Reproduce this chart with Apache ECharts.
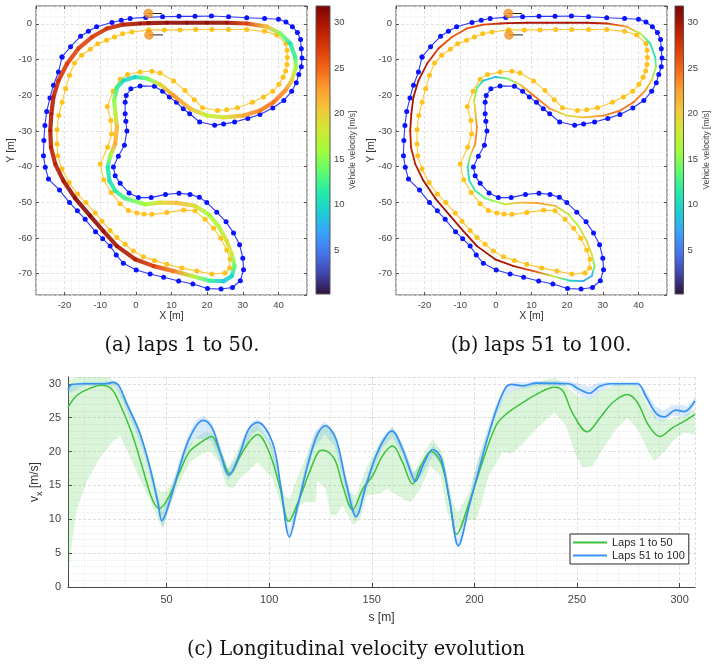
<!DOCTYPE html>
<html><head><meta charset="utf-8">
<script src="https://cdn.jsdelivr.net/npm/echarts@6/dist/echarts.min.js"></script>
<style>html,body{margin:0;padding:0;background:#fff}#c{width:712px;height:666px}</style>
</head><body><div id="c"></div>
<script>
// ---------------- DATA ----------------
// Track cones (m)
const coneBlueX = [-20.7,-18.3,-15.5,-13.3,-11.0,-6.7,-4.1,-1.6,2.8,7.5,12.1,16.6,21.2,26.0,31.1,36.1,40.0,42.1,43.9,45.3,46.2,46.4,46.6,46.4,45.7,45.0,43.7,41.5,38.4,34.8,31.4,27.7,24.6,22.1,17.9,15.1,13.3,11.4,9.4,7.5,5.2,1.2,-1.4,-2.7,-3.0,-3.0,-2.8,-2.5,-3.2,-4.9,-6.3,-5.8,-4.4,-1.9,0.7,4.3,8.3,12.1,15.2,17.8,19.9,22.7,25.3,27.4,29.1,30.0,30.2,29.3,27.1,23.9,20.1,16.0,12.0,7.8,4.0,0.1,-3.5,-5.5,-7.2,-9.3,-11.3,-14.2,-16.4,-18.6,-21.4,-24.5,-25.4,-25.9,-25.8,-25.5,-25.0,-24.1,-23.1,-21.7];
const coneBlueY = [-9.3,-6.4,-3.5,-2.1,-0.8,0.4,1.0,1.5,1.8,2.0,2.1,2.1,2.2,2.0,1.7,1.5,1.3,0.5,-0.8,-2.4,-4.4,-7.0,-9.6,-12.0,-14.2,-16.5,-18.9,-21.5,-23.6,-25.4,-26.5,-27.5,-28.1,-28.4,-27.5,-25.2,-23.8,-22.0,-20.5,-18.9,-17.5,-17.4,-18.2,-20.1,-22.0,-25.2,-27.3,-30.0,-34.0,-37.1,-40.1,-42.6,-44.7,-47.4,-48.7,-48.7,-47.8,-47.5,-47.8,-48.6,-50.1,-52.8,-55.5,-58.6,-61.9,-65.7,-68.9,-72.0,-73.9,-74.3,-74.2,-72.9,-72.1,-71.0,-70.1,-69.0,-67.1,-64.8,-62.3,-60.2,-58.3,-54.8,-52.4,-50.1,-46.6,-43.5,-40.2,-37.0,-32.7,-28.5,-24.6,-20.8,-17.2,-13.5];
const coneYellowX = [3.6,8.0,12.4,16.8,21.3,26.0,31.1,36.1,39.5,42.1,42.4,42.5,42.4,42.0,41.3,40.1,38.4,35.8,32.7,28.5,25.5,22.9,18.7,16.4,13.8,10.6,6.8,4.5,1.2,-2.3,-4.4,-6.4,-8.0,-7.0,-6.8,-7.9,-10.0,-9.0,-6.9,-4.4,-2.1,0.3,2.3,4.5,8.7,13.4,16.6,19.4,21.8,23.8,25.5,26.4,26.3,25.0,21.3,17.1,12.9,8.7,5.2,2.1,-0.7,-3.0,-5.3,-7.2,-9.5,-11.4,-14.0,-16.4,-18.7,-20.7,-21.9,-22.1,-22.1,-21.6,-20.7,-19.7,-18.6,-17.2,-15.2,-12.8,-10.7,-8.2,-6.0,-3.7,-1.1];
const coneYellowY = [-1.7,-1.7,-1.7,-1.6,-1.6,-1.6,-1.6,-2.1,-3.1,-5.5,-7.4,-9.4,-11.4,-13.2,-15.0,-17.0,-18.9,-20.5,-22.0,-23.5,-24.1,-24.3,-23.5,-21.3,-18.7,-16.0,-13.8,-13.3,-13.5,-14.2,-15.5,-18.9,-23.2,-27.1,-30.9,-34.6,-39.3,-43.7,-47.3,-50.4,-52.3,-53.0,-53.3,-53.4,-52.9,-52.2,-52.4,-54.8,-57.3,-60.1,-63.4,-66.0,-68.4,-69.8,-70.1,-69.3,-68.4,-67.4,-66.3,-65.3,-63.7,-61.8,-59.9,-57.9,-55.3,-53.0,-50.1,-47.7,-44.5,-40.7,-37.0,-33.7,-29.7,-25.7,-22.0,-18.2,-14.4,-11.0,-8.8,-7.1,-5.6,-4.6,-3.7,-2.8,-2.3];
// Start markers and heading
const startX = [3.5, 3.7];
const startY = [2.9, -3.1];
const headingEndX = [7.3, 7.6];
// Racing line path (m) and mean speeds (m/s)
const raceX = [3.5,8.7,14.3,19.9,25.5,31.1,36.7,40.5,43.3,44.7,44.9,43.7,41.9,38.6,34.9,30.2,24.6,19.9,15.2,10.6,6.8,3.1,-0.2,-3.5,-5.3,-6.1,-5.7,-5.3,-5.8,-7.2,-7.9,-7.4,-5.8,-3.0,2.6,6.8,11.5,16.6,20.4,23.2,25.5,26.9,27.7,26.9,24.6,20.8,16.2,10.6,5.0,-0.2,-5.3,-9.1,-12.8,-17.0,-20.3,-22.6,-23.8,-24.0,-23.7,-23.1,-21.7,-19.3,-16.1,-12.3,-8.1,-3.5,1.2];
const raceY = [0.2,0.3,0.3,0.3,0.3,0.1,-0.8,-2.7,-5.5,-9.3,-12.1,-15.9,-18.7,-22.0,-24.3,-25.7,-26.2,-25.7,-23.8,-20.1,-17.0,-15.3,-14.9,-15.9,-17.9,-21.5,-25.2,-29.0,-33.7,-37.0,-40.2,-44.0,-46.8,-48.9,-50.6,-50.1,-50.2,-51.0,-53.4,-56.7,-60.9,-64.6,-67.9,-70.7,-72.1,-72.0,-70.8,-69.3,-67.9,-66.0,-62.3,-58.1,-53.8,-48.9,-44.0,-39.3,-34.6,-29.9,-25.2,-20.5,-15.9,-11.2,-6.9,-3.7,-1.3,-0.2,0.1];
const raceSpeedA = [30.5,31,31,31,30.5,27,21,15,11,12.5,16,20,23,24.5,24,22,18.5,17.5,21,23,19,14,10,10,12,15,17,21,22,16,11,10.5,11.5,13,16,19,21,19,16,16.5,19,18,14,10,9,12,17,24,27,29,30,30.5,31,31,30,29,29,29.5,29.5,29,28,27,26.5,27,28,29,30];
const raceSpeedB = [30,30,30,30,30,28,23,17,11,11,15,20,23,24.5,24.5,23.5,21,19,23,24.5,20,14,8,9,13,18,21,23.5,23.5,18,11,10.5,12,14,18,21,23,21,17,17,20,19,14,8,7,10,18,26,29.5,30,30,30,30,30,30,29,28.8,29.5,30,30,30,29,27,25.5,26,26.5,28];
// Colorbar
const cbMin = 0.2, cbMax = 31.8;
const turboStops = ['#30123b','#4145ab','#4675ed','#39a2fc','#1bcfd4','#24eca6','#61fc6c','#a4fc3b','#d1e834','#f3c63a','#fe9b2d','#f36315','#d93806','#b11901','#7a0403'];
// Longitudinal velocity evolution
const greenS = [2,6,11,18,23,27,33,38,43,46.6,51.5,56.3,61,66,69,72,76,81,85.5,90,94.4,100,105,109.5,114.7,119.6,124.5,126.4,131.8,135.8,140.7,145.6,150.4,155.3,160.2,165,169.9,174,178.9,183.7,187.8,191.3,197.5,204,210.5,215.4,223.5,230,239,243,247.8,255,260.8,267.3,274.6,279.5,285,290.4,296.5,301.3,307.5];
const greenV = [26.5,28.2,29.1,29.8,29.3,27.2,22.8,17.9,13,11.6,13.5,16.9,19.9,21.2,21.8,22.2,19.9,16.7,19.1,21.3,22.5,19.9,15,9.7,13,16.9,20.1,20.2,18.9,15,11.4,14.5,16.4,19.4,20.8,18.4,15.2,17.9,20,18.4,13,7.8,12.5,18.5,23.8,25.5,27.2,28.4,29.5,29,25.7,22.9,24.8,27.2,28.4,27.2,23.8,22.2,23.5,24.3,25.5];
const blueS = [2,4,10,20,24,27,30.4,36.9,41.7,45.8,47.7,49.8,54.7,59.6,64.5,68,72.5,76.6,80.3,85.5,90,94.4,101.7,105.8,109.9,113.9,119.6,123.7,127.4,132.6,137.5,142.4,147.2,152.1,157,159.9,165,169.1,171.2,175.6,179.7,183.7,187.8,192.2,197.5,202.4,206,210.5,215,218,223.5,230,246,251,256,260.8,266,279.5,283.5,288.4,292.5,298.2,302.2,307.5];
const blueV = [29.1,29.9,30,30,30.2,29.6,27.2,22.8,17.9,12.5,9.8,11,15.9,20.8,23.8,24.6,23.3,19.4,16.5,19.5,23.3,24.3,21.3,14.5,7.4,12,18.9,22.6,23.8,21.8,15.4,10.4,15,19.4,22.3,23,20.3,16.9,15.6,18.4,20.3,19.1,13,6.1,12,17.5,21.5,26,29.3,29.9,29.7,30.1,30,29.2,28.6,29.6,30,30,28.2,25.7,25.1,26.1,25.9,27.5];
const greenUpS = [2,8,15,22,25.6,30.4,36.9,41.7,45.8,47.7,50,53,56,60,64,68,72,76,80,85.5,90,94.4,101.7,107.5,110,114.7,118.5,122.7,127.4,132.6,139,142.4,147.2,153.7,159.9,165,170.7,175.6,179.7,184.5,189.4,191.8,197.5,202.4,210.5,215.4,220.3,230,239,244.6,249.5,256,262.5,269,279.5,284.4,289.3,295.8,302.3,307.5];
const greenUp = [30.6,31,31,31,29.7,27.8,23.3,18.5,14.5,14,14.2,15.5,17.5,20.5,22,22.8,22.8,20.8,17.5,20.8,23.2,24,20.8,13.5,13,16.9,19.5,22.8,24,22.5,14,13.5,17.5,21.2,23.5,21,16.9,19.9,21.8,19.9,12.5,11,14,19.4,26,28.4,29.2,30.2,30.9,29.7,28.4,27.7,29,29.9,29.7,26.8,24.6,24.8,25.3,26.3];
const greenLoS = [2,4.2,6,11,17.4,23.9,27.4,32,36.9,41.7,45.8,48.3,51.5,56.3,61.2,66.1,71,75.8,79,82.3,85.5,94.4,101.7,105.8,108,112,114.7,117.9,122.7,123.5,127.6,130,132.6,135.8,141,144.4,147.6,154,157.5,162.4,165.6,168.9,173.8,178.6,183.5,186.8,190.9,195,197.5,201,207,213.5,218.3,223.5,230,239,244.6,249.5,252.7,257.6,262.5,269,274.6,279.5,284.4,287.6,292.5,297.4,302.3,307.5];
const greenLo = [1.5,7.2,11.1,15.5,19,21.5,22.3,19.4,15.9,13,10,8.6,12,15.4,18.4,19.4,20.1,18.4,14.9,14.5,15.9,18.4,16,12.1,9.6,9.6,12,12.5,12.5,15.7,14.5,10.6,10.6,12.1,9.1,10.1,13.5,13.8,14.5,13.5,13,12.5,14.5,17.9,16.4,11,8.6,9.1,10,9.8,16.4,19.9,19.7,21.1,23.3,25.8,23.8,19.4,17.6,17.9,20.3,23.3,25,23.3,20.3,18.6,19.9,21.8,22.8,22.5];
const blueBandS = [2,10,20,25,30,35,40,45,48,52,56,60,64,68,72,76,80,84,88,92,95,100,105,110,114,118,122,127,132,137,142,146,150,155,160,165,170,175,180,185,189,192,196,200,205,210,215,220,225,230,240,246,251,256,261,266,275,280,284,288,292,296,300,304,307.5];
const blueUp = [29.6,30.3,30.3,30.5,28,24.5,20,14.3,11,14.5,18.5,22,24.5,25.3,24.3,21,17.3,19,22.5,24.5,24.8,23,16.5,8.3,12.8,18.5,22.8,24.5,22.8,17,11.3,14.8,18.5,22,23.7,21.2,16.8,18.5,21,18.8,12,7,11.2,16.5,22,26.5,29.6,30.3,30.2,30.4,30.4,30.4,30,29.6,30.2,30.3,30.3,30.3,28.8,26.8,26,26.8,26.9,26.7,28];
const blueLo = [28.5,29.7,29.7,29.7,26.5,23,18.8,12.5,8.7,12.2,16.5,20,22,21.8,21.5,18.5,15.7,17.5,20.5,22.7,23.2,21.2,14.8,6.8,10.8,16.5,20.5,22.5,20.8,14.5,9.6,13,16.5,20.4,22.2,19.5,15,16.8,19.5,17.5,10,5.5,9.5,14.5,20.5,25,28.2,29.2,29.3,29.7,29.7,29.6,28.5,27.6,28.8,29.6,29.7,29.6,27.4,24.8,24.4,25.3,25.2,25.2,26.9];
const seriesNames = ['Laps 1 to 50', 'Laps 51 to 100'];
const captions = ['(a) laps 1 to 50.', '(b) laps 51 to 100.', '(c) Longitudinal velocity evolution'];

// ---------------- STYLE / HELPERS ----------------
const FONT = 'Liberation Sans, Arial, sans-serif';
const SERIF = 'DejaVu Serif, serif';
const trk = {xMin: -28, xMax: 48, yMin: -76, yMax: 5};
const cBlue = '#0a14ff', cYellow = '#ffc21a', cGreen = '#3cc23c', cLine2 = '#3592f3';

function hex2rgb(h){ return [parseInt(h.slice(1,3),16), parseInt(h.slice(3,5),16), parseInt(h.slice(5,7),16)]; }
function turboColor(v){
  let t = (v - cbMin) / (cbMax - cbMin); t = Math.max(0, Math.min(1, t));
  const n = turboStops.length - 1, f = t * n, i = Math.min(n - 1, Math.floor(f)), u = f - i;
  const a = hex2rgb(turboStops[i]), b = hex2rgb(turboStops[i+1]);
  return 'rgb(' + a.map((c,k)=>Math.round(c + (b[k]-c)*u)).join(',') + ')';
}
const pairs = (xs, ys) => xs.map((x,i)=>[x, ys[i]]);
const loop = (xs, ys) => { const p = pairs(xs, ys); p.push(p[0].slice()); return p; };

function trackAxes(grid){
  const common = {type:'value', gridIndex:grid, min:trk.xMin, max:trk.xMax, splitNumber:8};
  const xb = Object.assign({}, common, {position:'bottom', name:'X [m]', nameLocation:'middle', nameGap:16, nameMoveOverlap:false,
    nameTextStyle:{fontSize:10.5, color:'#333', fontFamily:FONT},
    axisLine:{show:false, onZero:false}, axisTick:{inside:true, length:3, lineStyle:{color:'#555'}},
    axisLabel:{fontSize:9.5, color:'#444', margin:5, fontFamily:FONT, showMinLabel:false, showMaxLabel:false},
    splitLine:{show:true, lineStyle:{color:'#dcdcdc', width:0.8, type:[3,2]}},
    minorSplitLine:{show:true, lineStyle:{color:'#ececec', width:0.8, type:'dotted'}}, minorTick:{show:false, splitNumber:5}});
  const xt = Object.assign({}, common, {position:'top', axisLine:{show:false, onZero:false}, axisTick:{inside:true, length:3, lineStyle:{color:'#555'}},
    axisLabel:{show:false}, splitLine:{show:false}});
  const ycom = {type:'value', gridIndex:grid, min:trk.yMin, max:trk.yMax, splitNumber:8};
  const yl = Object.assign({}, ycom, {position:'left', name:'Y [m]', nameLocation:'middle', nameGap:19, nameRotate:90, nameMoveOverlap:false,
    nameTextStyle:{fontSize:10.5, color:'#333', fontFamily:FONT},
    axisLine:{show:false, onZero:false}, axisTick:{inside:true, length:3, lineStyle:{color:'#555'}},
    axisLabel:{fontSize:9.5, color:'#444', margin:4, fontFamily:FONT, showMinLabel:false, showMaxLabel:false},
    splitLine:{show:true, lineStyle:{color:'#dcdcdc', width:0.8, type:[3,2]}},
    minorSplitLine:{show:true, lineStyle:{color:'#ececec', width:0.8, type:'dotted'}}, minorTick:{show:false, splitNumber:5}});
  const yr = Object.assign({}, ycom, {position:'right', axisLine:{show:false, onZero:false}, axisTick:{inside:true, length:3, lineStyle:{color:'#555'}},
    axisLabel:{show:false}, splitLine:{show:false}});
  return {x:[xb, xt], y:[yl, yr]};
}
function cbAxes(grid){
  return {
    x:{type:'value', gridIndex:grid, min:0, max:1, show:false},
    y:{type:'value', gridIndex:grid, min:cbMin, max:cbMax, splitNumber:6, position:'right',
      name:'Vehicle velocity [m/s]', nameLocation:'middle', nameRotate:90, nameGap:17,
      nameTextStyle:{fontSize:8.5, color:'#444', fontFamily:FONT},
      axisLine:{show:false, onZero:false}, axisTick:{inside:true, length:3, lineStyle:{color:'#333'}},
      axisLabel:{fontSize:9.5, color:'#444', margin:4, fontFamily:FONT, showMinLabel:false, showMaxLabel:false},
      splitLine:{show:false}}
  };
}

const A = trackAxes(0), CA = cbAxes(1), B = trackAxes(2), CB = cbAxes(3);
const xAxes = [A.x[0], A.x[1], CA.x, B.x[0], B.x[1], CB.x];
const yAxes = [A.y[0], A.y[1], CA.y, B.y[0], B.y[1], CB.y];
// bottom chart axes (index 6)
xAxes.push({type:'value', gridIndex:4, min:2, max:307.5, splitNumber:6, name:'s [m]', nameLocation:'middle', nameGap:25,
  nameTextStyle:{fontSize:12, color:'#333', fontFamily:FONT},
  axisLine:{show:true, onZero:false, lineStyle:{color:'#444', width:1}}, axisTick:{inside:true, length:4, lineStyle:{color:'#444'}},
  axisLabel:{fontSize:11, color:'#444', margin:7, fontFamily:FONT, showMinLabel:false, showMaxLabel:false},
  splitLine:{show:true, lineStyle:{color:'#d6d6d6', width:0.8, type:[3,2]}},
  minorTick:{show:false, splitNumber:5}, minorSplitLine:{show:true, lineStyle:{color:'#e6e6e6', width:0.8, type:'dotted'}}});
yAxes.push({type:'value', gridIndex:4, min:0, max:31, interval:5, name:'v{s|x} [m/s]', nameLocation:'middle', nameGap:24, nameRotate:90, nameMoveOverlap:false,
  nameTextStyle:{fontSize:12, color:'#333', fontFamily:FONT, rich:{s:{fontSize:9, padding:[9,0,0,0], fontFamily:FONT, color:'#333'}}},
  axisLine:{show:true, onZero:false, lineStyle:{color:'#444', width:1}}, axisTick:{inside:true, length:4, lineStyle:{color:'#444'}},
  axisLabel:{fontSize:11, color:'#444', margin:7, fontFamily:FONT, showMaxLabel:false},
  splitLine:{show:true, lineStyle:{color:'#d6d6d6', width:0.8, type:[3,2]}},
  minorTick:{show:false, splitNumber:5}, minorSplitLine:{show:true, lineStyle:{color:'#e6e6e6', width:0.8, type:'dotted'}}});

function trackSeries(xi, yi, speeds, raceWidth, raceOpacity){
  const segs = raceX.map((x,i)=>{ const j=(i+1)%raceX.length; return [x, raceY[i], raceX[j], raceY[j], speeds[i], speeds[j]]; });
  const arr = [
    {type:'line', xAxisIndex:xi, yAxisIndex:yi, data:loop(coneBlueX, coneBlueY), symbol:'circle', symbolSize:5,
      itemStyle:{color:cBlue}, lineStyle:{color:cBlue, width:1.1, opacity:0.85}, z:3, silent:true},
    {type:'line', xAxisIndex:xi, yAxisIndex:yi, data:loop(coneYellowX, coneYellowY), symbol:'circle', symbolSize:5,
      itemStyle:{color:cYellow}, lineStyle:{color:cYellow, width:1.1, opacity:0.9}, z:3, silent:true},
    {type:'custom', xAxisIndex:xi, yAxisIndex:yi, data:segs, encode:{x:[0,2], y:[1,3]}, z:4, silent:true,
      renderItem:(params, api)=>{
        const p1 = api.coord([api.value(0), api.value(1)]), p2 = api.coord([api.value(2), api.value(3)]);
        return {type:'line', shape:{x1:p1[0], y1:p1[1], x2:p2[0], y2:p2[1]},
          style:{stroke:new echarts.graphic.LinearGradient(p1[0],p1[1],p2[0],p2[1],
            [{offset:0,color:turboColor(api.value(4))},{offset:1,color:turboColor(api.value(5))}], true),
            lineWidth:raceWidth, lineCap:'round', opacity:raceOpacity}};
      }}
  ];
  startX.forEach((x,i)=>{
    arr.push({type:'line', xAxisIndex:xi, yAxisIndex:yi, data:[[x,startY[i]],[headingEndX[i],startY[i]]], symbol:'none',
      lineStyle:{color:'#222', width:1}, z:5, silent:true});
  });
  arr.push({type:'scatter', xAxisIndex:xi, yAxisIndex:yi, data:pairs(startX, startY), symbolSize:9,
    itemStyle:{color:'#f7941d', borderColor:'#e57a10', borderWidth:0.5}, z:6, silent:true});
  return arr;
}
function colorbarSeries(xi, yi){
  return {type:'custom', xAxisIndex:xi, yAxisIndex:yi, data:[[0, cbMin, 1, cbMax]], encode:{x:[0,2], y:[1,3]}, silent:true,
    renderItem:(params, api)=>{
      const p1 = api.coord([api.value(0), api.value(3)]), p2 = api.coord([api.value(2), api.value(1)]);
      const stops = turboStops.map((c,i)=>({offset:1 - i/(turboStops.length-1), color:c}));
      return {type:'rect', shape:{x:p1[0], y:p1[1], width:p2[0]-p1[0], height:p2[1]-p1[1]},
        style:{fill:new echarts.graphic.LinearGradient(0,0,0,1, stops.reverse()), stroke:'#555', lineWidth:1}};
    }};
}
function bandSeries(upS, up, loS, lo, fill){
  return {type:'custom', xAxisIndex:6, yAxisIndex:6, data:[[upS[0], up[0]]], encode:{x:0, y:1}, clip:true, silent:true, z:1,
    renderItem:(params, api)=>{
      const pts = upS.map((s,i)=>api.coord([s, up[i]]));
      for (let i = loS.length-1; i >= 0; i--) pts.push(api.coord([loS[i], lo[i]]));
      return {type:'polygon', shape:{points:pts}, style:{fill:fill}};
    }};
}

const series = [].concat(
  trackSeries(0, 0, raceSpeedA, 4.2, 0.9),
  [colorbarSeries(2, 2)],
  trackSeries(3, 3, raceSpeedB, 1.8, 1),
  [colorbarSeries(5, 5)],
  [
    bandSeries(greenUpS, greenUp, greenLoS, greenLo, 'rgba(70,205,70,0.2)'),
    bandSeries(blueBandS, blueUp, blueBandS, blueLo, 'rgba(60,150,245,0.2)'),
    {type:'line', name:seriesNames[0], xAxisIndex:6, yAxisIndex:6, data:pairs(greenS, greenV), smooth:0.35, symbol:'none',
      lineStyle:{color:cGreen, width:1.5}, itemStyle:{color:cGreen}, z:3},
    {type:'line', name:seriesNames[1], xAxisIndex:6, yAxisIndex:6, data:pairs(blueS, blueV), smooth:0.35, symbol:'none',
      lineStyle:{color:cLine2, width:1.7}, itemStyle:{color:cLine2}, z:4}
  ]
);

const capStyle = (t)=>({text:t, font:'19.5px '+SERIF, fill:'#111', align:'center', verticalAlign:'middle'});
const chart = echarts.init(document.getElementById('c'), null, {renderer:'canvas'});
chart.setOption({
  animation:false,
  backgroundColor:'#fff',
  grid:[
    {left:36, top:6, width:271, height:289, show:true, borderColor:'#555', borderWidth:1, backgroundColor:'#fff'},
    {left:316, top:6, width:14, height:288, show:false},
    {left:396, top:6, width:271, height:289, show:true, borderColor:'#555', borderWidth:1, backgroundColor:'#fff'},
    {left:675, top:6, width:14, height:288, show:false},
    {left:68, top:377, width:627, height:210, show:false}
  ],
  xAxis:xAxes, yAxis:yAxes,
  legend:{data:seriesNames, orient:'vertical', left:570, top:534, itemWidth:34, itemHeight:2, icon:'rect', itemGap:2,
    padding:[3,4,3,3], borderColor:'#262626', borderWidth:1, backgroundColor:'#fff', selectedMode:false,
    textStyle:{fontSize:11, color:'#262626', fontFamily:FONT}},
  graphic:[
    {type:'text', x:182, y:346, style:capStyle(captions[0])},
    {type:'text', x:541, y:346, style:capStyle(captions[1])},
    {type:'text', x:356, y:650, style:capStyle(captions[2])}
  ],
  series:series
});
</script></body></html>
